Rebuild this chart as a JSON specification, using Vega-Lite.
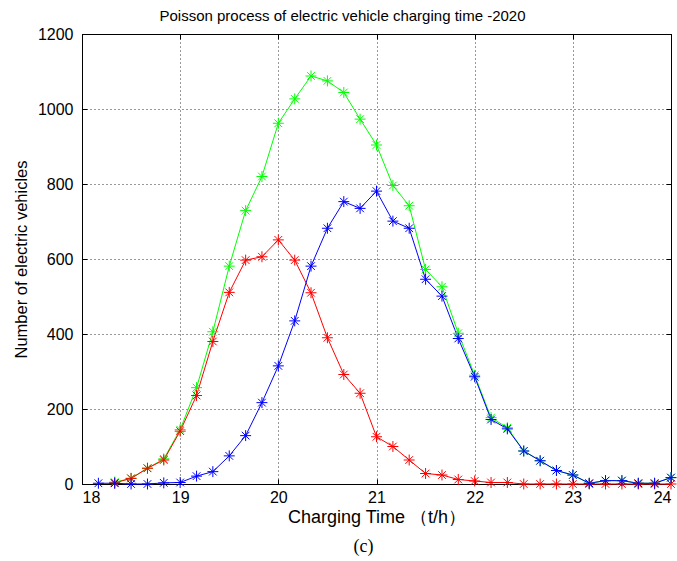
{
  "$schema": "https://vega.github.io/schema/vega-lite/v6.json",
  "width": 589,
  "height": 450,
  "autosize": {"type": "none"},
  "padding": {"left": 82, "top": 34, "right": 6, "bottom": 77},
  "background": "white",
  "title": {"text": "(c)", "orient": "bottom", "font": "Liberation Serif", "fontSize": 18, "fontWeight": "normal", "color": "#000", "offset": 12, "dx": -13},
  "config": {
    "view": {"stroke": "#000", "strokeWidth": 1},
    "axis": {"labelFont": "Liberation Sans", "labelFontSize": 16, "labelColor": "#000", "titleFont": "Liberation Sans", "titleFontSize": 16.5, "titleFontWeight": "normal", "titleColor": "#000", "domainColor": "#000", "tickColor": "#000"}
  },
  "data": {"values": [
    {"t": 18.333, "s": "green", "n": 5}, {"t": 18.5, "s": "green", "n": 15}, {"t": 18.667, "s": "green", "n": 42}, {"t": 18.833, "s": "green", "n": 67}, {"t": 19, "s": "green", "n": 145},
    {"t": 19.167, "s": "green", "n": 257}, {"t": 19.333, "s": "green", "n": 406}, {"t": 19.5, "s": "green", "n": 581}, {"t": 19.667, "s": "green", "n": 729}, {"t": 19.833, "s": "green", "n": 820},
    {"t": 20, "s": "green", "n": 962}, {"t": 20.167, "s": "green", "n": 1027}, {"t": 20.333, "s": "green", "n": 1088}, {"t": 20.5, "s": "green", "n": 1075}, {"t": 20.667, "s": "green", "n": 1044},
    {"t": 20.833, "s": "green", "n": 973}, {"t": 21, "s": "green", "n": 904}, {"t": 21.167, "s": "green", "n": 796}, {"t": 21.333, "s": "green", "n": 742}, {"t": 21.5, "s": "green", "n": 572},
    {"t": 21.667, "s": "green", "n": 526}, {"t": 21.833, "s": "green", "n": 402}, {"t": 22, "s": "green", "n": 290}, {"t": 22.167, "s": "green", "n": 177}, {"t": 22.333, "s": "green", "n": 150},
    {"t": 22.5, "s": "green", "n": 88}, {"t": 22.667, "s": "green", "n": 62}, {"t": 22.833, "s": "green", "n": 36}, {"t": 23, "s": "green", "n": 24}, {"t": 23.167, "s": "green", "n": 2},
    {"t": 23.333, "s": "green", "n": 9}, {"t": 23.5, "s": "green", "n": 9}, {"t": 23.667, "s": "green", "n": 2}, {"t": 23.833, "s": "green", "n": 2}, {"t": 24, "s": "green", "n": 17},
    {"t": 18.333, "s": "red", "n": 3}, {"t": 18.5, "s": "red", "n": 15}, {"t": 18.667, "s": "red", "n": 42}, {"t": 18.833, "s": "red", "n": 64}, {"t": 19, "s": "red", "n": 141},
    {"t": 19.167, "s": "red", "n": 236}, {"t": 19.333, "s": "red", "n": 380}, {"t": 19.5, "s": "red", "n": 511}, {"t": 19.667, "s": "red", "n": 597}, {"t": 19.833, "s": "red", "n": 606},
    {"t": 20, "s": "red", "n": 651}, {"t": 20.167, "s": "red", "n": 597}, {"t": 20.333, "s": "red", "n": 510}, {"t": 20.5, "s": "red", "n": 390}, {"t": 20.667, "s": "red", "n": 292},
    {"t": 20.833, "s": "red", "n": 242}, {"t": 21, "s": "red", "n": 126}, {"t": 21.167, "s": "red", "n": 100}, {"t": 21.333, "s": "red", "n": 64}, {"t": 21.5, "s": "red", "n": 28},
    {"t": 21.667, "s": "red", "n": 24}, {"t": 21.833, "s": "red", "n": 12}, {"t": 22, "s": "red", "n": 8}, {"t": 22.167, "s": "red", "n": 4}, {"t": 22.333, "s": "red", "n": 4},
    {"t": 22.5, "s": "red", "n": 0}, {"t": 22.667, "s": "red", "n": 0}, {"t": 22.833, "s": "red", "n": 0}, {"t": 23, "s": "red", "n": 0}, {"t": 23.167, "s": "red", "n": 0},
    {"t": 23.333, "s": "red", "n": 0}, {"t": 23.5, "s": "red", "n": 0}, {"t": 23.667, "s": "red", "n": 0}, {"t": 23.833, "s": "red", "n": 0}, {"t": 24, "s": "red", "n": 0},
    {"t": 18.167, "s": "blue", "n": 2}, {"t": 18.333, "s": "blue", "n": 2}, {"t": 18.5, "s": "blue", "n": 0}, {"t": 18.667, "s": "blue", "n": 0}, {"t": 18.833, "s": "blue", "n": 3}, {"t": 19, "s": "blue", "n": 4},
    {"t": 19.167, "s": "blue", "n": 21}, {"t": 19.333, "s": "blue", "n": 33}, {"t": 19.5, "s": "blue", "n": 75}, {"t": 19.667, "s": "blue", "n": 129}, {"t": 19.833, "s": "blue", "n": 217},
    {"t": 20, "s": "blue", "n": 315}, {"t": 20.167, "s": "blue", "n": 435}, {"t": 20.333, "s": "blue", "n": 581}, {"t": 20.5, "s": "blue", "n": 682}, {"t": 20.667, "s": "blue", "n": 753},
    {"t": 20.833, "s": "blue", "n": 735}, {"t": 21, "s": "blue", "n": 781}, {"t": 21.167, "s": "blue", "n": 701}, {"t": 21.333, "s": "blue", "n": 682}, {"t": 21.5, "s": "blue", "n": 546},
    {"t": 21.667, "s": "blue", "n": 501}, {"t": 21.833, "s": "blue", "n": 388}, {"t": 22, "s": "blue", "n": 286}, {"t": 22.167, "s": "blue", "n": 172}, {"t": 22.333, "s": "blue", "n": 147},
    {"t": 22.5, "s": "blue", "n": 88}, {"t": 22.667, "s": "blue", "n": 62}, {"t": 22.833, "s": "blue", "n": 36}, {"t": 23, "s": "blue", "n": 24}, {"t": 23.167, "s": "blue", "n": 2},
    {"t": 23.333, "s": "blue", "n": 9}, {"t": 23.5, "s": "blue", "n": 9}, {"t": 23.667, "s": "blue", "n": 2}, {"t": 23.833, "s": "blue", "n": 2}, {"t": 24, "s": "blue", "n": 17}
  ]},
  "resolve": {"axis": {"x": "independent", "y": "independent"}},
  "layer": [
    {
      "mark": {"type": "line", "strokeWidth": 1, "clip": false},
      "encoding": {
        "x": {"field": "t", "type": "quantitative", "scale": {"domain": [18, 24], "nice": false, "zero": false},
          "axis": {"orient": "bottom", "values": [18, 19, 20, 21, 22, 23, 24], "format": "d", "title": "Charging Time （t/h）", "titleFontSize": 18, "grid": true, "gridColor": "#000", "gridDash": [1, 3], "gridOpacity": 0.8, "tickSize": -5, "labelPadding": 10, "titlePadding": 3}},
        "y": {"field": "n", "type": "quantitative", "scale": {"domain": [0, 1200], "nice": false},
          "axis": {"orient": "left", "values": [0, 200, 400, 600, 800, 1000, 1200], "format": "d", "title": "Number of electric vehicles", "grid": true, "gridColor": "#000", "gridDash": [1, 3], "gridOpacity": 0.8, "tickSize": -5, "labelPadding": 14, "titlePadding": 8}},
        "color": {"field": "s", "type": "nominal", "sort": ["green", "red", "blue"], "scale": {"domain": ["green", "red", "blue"], "range": ["#00ff00", "#ff0000", "#0000ff"]}, "legend": null}
      }
    },
    {
      "mark": {"type": "point", "filled": false, "strokeWidth": 1, "size": 120, "opacity": 1, "clip": false,
        "shape": "M0,-1L0,1M-1,0L1,0M-0.7,-0.7L0.7,0.7M-0.7,0.7L0.7,-0.7"},
      "encoding": {
        "x": {"field": "t", "type": "quantitative",
          "axis": {"orient": "top", "values": [18, 19, 20, 21, 22, 23, 24], "labels": false, "domain": false, "tickSize": -5, "title": "Poisson process of electric vehicle charging time -2020", "titleFontSize": 15, "titlePadding": 10, "titleX": 260}},
        "y": {"field": "n", "type": "quantitative",
          "axis": {"orient": "right", "values": [0, 200, 400, 600, 800, 1000, 1200], "labels": false, "domain": false, "tickSize": -5, "title": null}},
        "color": {"field": "s", "type": "nominal", "legend": null}
      }
    }
  ]
}
